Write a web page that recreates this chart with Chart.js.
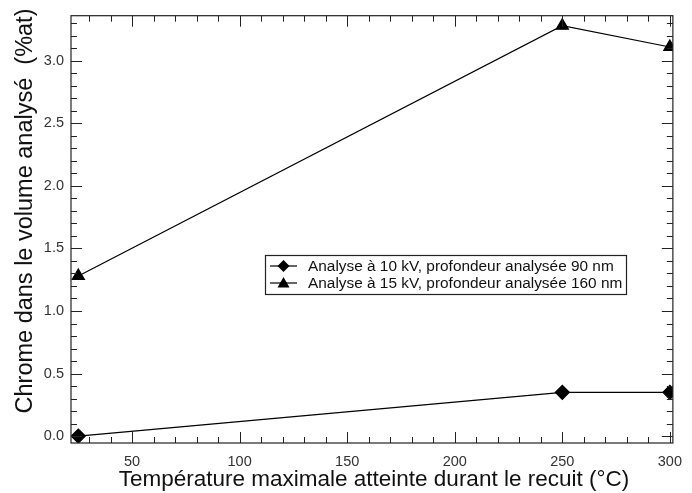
<!DOCTYPE html>
<html>
<head>
<meta charset="utf-8">
<script src="https://cdn.jsdelivr.net/npm/chart.js@4"></script>
<style>
html,body{margin:0;padding:0;background:#fff;}
#wrap{width:692px;height:493px;position:relative;}
</style>
</head>
<body>
<div id="wrap"><canvas id="c" width="692" height="493"></canvas></div>
<script>
const temperatures = [25, 250, 300];
const chrome10kV = [0.0, 0.35, 0.35];
const chrome15kV = [1.28, 3.28, 3.11];
const seriesLabels = ["Analyse à 10 kV, profondeur analysée 90 nm", "Analyse à 15 kV, profondeur analysée 160 nm"];
const xTitle = "Température maximale atteinte durant le recuit (°C)";
const yTitle = "Chrome dans le volume analysé  (%at)";
const xMajorTicks = [50, 100, 150, 200, 250, 300];
const yMajorTicks = [0.0, 0.5, 1.0, 1.5, 2.0, 2.5, 3.0];

const FONT = "'Liberation Sans', Arial, sans-serif";

function pts(xs, ys){ return xs.map((x,i)=>({x:x, y:ys[i]})); }

const decorPlugin = {
  id: 'decor',
  afterDraw(chart){
    const ctx = chart.ctx;
    const a = chart.chartArea;
    const xs = chart.scales.x, ys = chart.scales.y;
    ctx.save();
    ctx.strokeStyle = '#222';
    ctx.lineWidth = 1.2;
    ctx.strokeRect(a.left, a.top, a.right - a.left, a.bottom - a.top);
    ctx.lineWidth = 1;
    for (let v = 30; v <= 300; v += 10){
      const px = Math.round(xs.getPixelForValue(v)) + 0.5;
      const major = (v % 50 === 0);
      const len = major ? 11 : 6;
      ctx.beginPath();
      ctx.moveTo(px, a.bottom); ctx.lineTo(px, a.bottom - len);
      ctx.moveTo(px, a.top); ctx.lineTo(px, a.top + len);
      ctx.stroke();
    }
    for (let i = 0; i <= 33; i++){
      const v = i / 10;
      const py = Math.round(ys.getPixelForValue(v)) + 0.5;
      const major = (i % 5 === 0);
      const len = major ? 11 : 6;
      ctx.beginPath();
      ctx.moveTo(a.left, py); ctx.lineTo(a.left + len, py);
      ctx.moveTo(a.right, py); ctx.lineTo(a.right - len, py);
      ctx.stroke();
    }
    // titles
    ctx.fillStyle = '#111';
    ctx.font = '22.5px ' + FONT;
    ctx.textAlign = 'center';
    ctx.textBaseline = 'middle';
    ctx.fillText(xTitle, (a.left + a.right) / 2 + 2, 480);
    ctx.save();
    ctx.translate(26, 211);
    ctx.rotate(-Math.PI / 2);
    ctx.font = '23.5px ' + FONT;
    ctx.fillText(yTitle, 0, 0);
    ctx.restore();
    // legend
    const lx = 265, ly = 255, lw = 361, lh = 39;
    ctx.fillStyle = '#fff';
    ctx.fillRect(lx, ly, lw, lh);
    ctx.strokeStyle = '#222';
    ctx.lineWidth = 1.2;
    ctx.strokeRect(lx + 0.5, ly + 0.5, lw, lh);
    chart.data.datasets.forEach((ds, i) => {
      const cy = ly + 11 + i * 17;
      ctx.strokeStyle = '#000';
      ctx.lineWidth = 1.2;
      ctx.beginPath();
      ctx.moveTo(lx + 5, cy); ctx.lineTo(lx + 32, cy);
      ctx.stroke();
      ctx.fillStyle = '#000';
      ctx.beginPath();
      const mx = lx + 18.5;
      if (ds.pointStyle === 'rectRot'){
        const r = 6;
        ctx.moveTo(mx, cy - r); ctx.lineTo(mx + r, cy); ctx.lineTo(mx, cy + r); ctx.lineTo(mx - r, cy);
      } else {
        const r = 6;
        ctx.moveTo(mx, cy - r); ctx.lineTo(mx + r, cy + r * 0.75); ctx.lineTo(mx - r, cy + r * 0.75);
      }
      ctx.closePath();
      ctx.fill();
      ctx.fillStyle = '#111';
      ctx.font = '15.4px ' + FONT;
      ctx.textAlign = 'left';
      ctx.textBaseline = 'middle';
      ctx.fillText(ds.label, lx + 43, cy + 1);
    });
    ctx.restore();
  }
};

new Chart(document.getElementById('c'), {
  type: 'scatter',
  data: {
    datasets: [
      {
        label: seriesLabels[0],
        data: pts(temperatures, chrome10kV),
        showLine: true,
        borderColor: '#000',
        backgroundColor: '#000',
        borderWidth: 1.2,
        pointStyle: 'rectRot',
        pointRadius: 7,
        pointHoverRadius: 7,
        tension: 0
      },
      {
        label: seriesLabels[1],
        data: pts(temperatures, chrome15kV),
        showLine: true,
        borderColor: '#000',
        backgroundColor: '#000',
        borderWidth: 1.2,
        pointStyle: 'triangle',
        pointRadius: 7,
        pointHoverRadius: 7,
        tension: 0
      }
    ]
  },
  options: {
    responsive: false,
    animation: false,
    events: [],
    layout: { padding: { top: 15, right: 9, left: 0, bottom: 0 } },
    plugins: { legend: { display: false }, tooltip: { enabled: false } },
    scales: {
      x: {
        type: 'linear',
        min: 21.6,
        max: 301.4,
        grid: { display: false, drawTicks: false },
        border: { display: false },
        afterFit(s){ s.height = 50; },
        afterBuildTicks(s){ s.ticks = xMajorTicks.map(v => ({value: v})); },
        ticks: {
          padding: 10,
          color: '#333',
          font: { family: FONT, size: 14.5 },
          callback: v => String(v)
        }
      },
      y: {
        type: 'linear',
        min: -0.055,
        max: 3.36,
        grid: { display: false, drawTicks: false },
        border: { display: false },
        afterFit(s){ s.width = 71; },
        afterBuildTicks(s){ s.ticks = yMajorTicks.map(v => ({value: v})); },
        ticks: {
          padding: 7,
          color: '#333',
          font: { family: FONT, size: 14.5 },
          callback: v => Number(v).toFixed(1)
        }
      }
    }
  },
  plugins: [decorPlugin]
});
</script>
</body>
</html>
